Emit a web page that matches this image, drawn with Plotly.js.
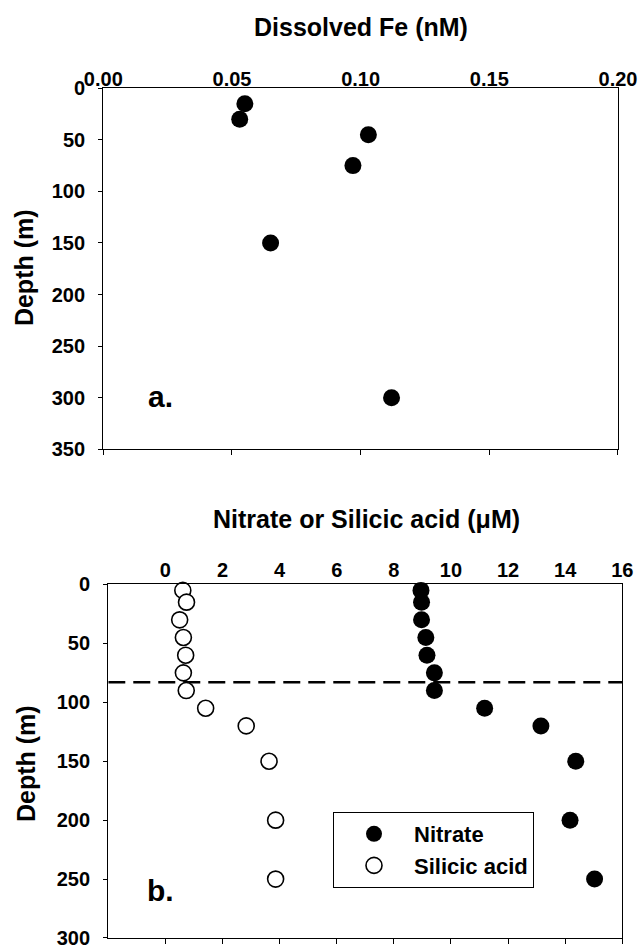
<!DOCTYPE html>
<html>
<head>
<meta charset="utf-8">
<script src="https://cdn.plot.ly/plotly-3.0.1.min.js"></script>
<style>html,body{margin:0;padding:0;background:#fff;}#chart{width:643px;height:949px;}</style>
</head>
<body>
<div id="chart"></div>
<script>
// ---- Data ----
const feDepth = [15, 30, 45, 75, 150, 300];
const feConc = [0.055, 0.053, 0.103, 0.097, 0.065, 0.112];

const nutDepth = [5, 15, 30, 45, 60, 75, 90, 105, 120, 150, 200, 250];
const nitrate = [8.95, 8.97, 8.97, 9.12, 9.16, 9.42, 9.42, 11.18, 13.15, 14.37, 14.17, 15.03];
const silicic = [0.61, 0.74, 0.50, 0.63, 0.71, 0.63, 0.73, 1.41, 2.83, 3.63, 3.86, 3.86];

const mixedLayerDepth = 83;

const feTicks = [0, 0.05, 0.10, 0.15, 0.20];
const feDepthTicks = [0, 50, 100, 150, 200, 250, 300, 350];
const nutTicks = [0, 2, 4, 6, 8, 10, 12, 14, 16];
const nutDepthTicks = [0, 50, 100, 150, 200, 250, 300];

// ---- Styles ----
const FONT = "'Liberation Sans', Arial, sans-serif";
const tickFont = {family: FONT, size: 20, color: '#000', weight: 'bold'};
const titleFont = {family: FONT, size: 25, color: '#000', weight: 'bold'};

const traces = [
  {x: feConc, y: feDepth, xaxis: 'x', yaxis: 'y', type: 'scatter', mode: 'markers',
   marker: {size: 17, color: '#000'}, showlegend: false, cliponaxis: false},
  // empty helper traces so the bottom tick-only axes get drawn
  {x: [], y: [], xaxis: 'x3', yaxis: 'y', type: 'scatter', mode: 'markers', showlegend: false},
  {x: [], y: [], xaxis: 'x4', yaxis: 'y2', type: 'scatter', mode: 'markers', showlegend: false},
  {x: [-2, 16], y: [mixedLayerDepth, mixedLayerDepth], xaxis: 'x2', yaxis: 'y2', type: 'scatter', mode: 'lines',
   line: {color: '#000', width: 2.5, dash: '17px,8px'}, showlegend: false},
  {x: nitrate, y: nutDepth, xaxis: 'x2', yaxis: 'y2', type: 'scatter', mode: 'markers', name: 'Nitrate',
   legendgroup: 'n', marker: {size: 17, color: '#000'}, cliponaxis: false},
  {x: silicic, y: nutDepth, xaxis: 'x2', yaxis: 'y2', type: 'scatter', mode: 'markers', name: 'Silicic acid',
   legendgroup: 's', marker: {size: 16, color: '#fff', line: {color: '#000', width: 1.6}}, cliponaxis: false}
];

const xTop = (range, tickvals, fmt, domain, anchor, standoff) => ({
  domain: domain, anchor: anchor, side: 'top', range: range, tickvals: tickvals, tickformat: fmt,
  ticks: '', showline: true, mirror: true, linecolor: '#000', linewidth: 1.2,
  showgrid: false, zeroline: false, tickfont: tickFont, ticklabelstandoff: standoff,
  ticklabeloverflow: 'allow'
});
const xBot = (range, tickvals, overl, anchor) => ({
  overlaying: overl, anchor: anchor, side: 'bottom', range: range, tickvals: tickvals,
  ticks: 'outside', ticklen: 5, tickwidth: 1, tickcolor: '#000', showticklabels: false,
  showline: false, showgrid: false, zeroline: false
});
const yAx = (range, tickvals, domain, anchor) => ({
  domain: domain, anchor: anchor, range: range, tickvals: tickvals,
  ticks: 'outside', ticklen: 4, tickwidth: 1, tickcolor: '#000',
  showline: true, mirror: true, linecolor: '#000', linewidth: 1.2,
  showgrid: false, zeroline: false, tickfont: tickFont, ticklabelstandoff: 9,
  ticklabeloverflow: 'allow'
});

const layout = {
  width: 643, height: 949,
  margin: {l: 0, r: 0, t: 0, b: 0},
  paper_bgcolor: '#fff', plot_bgcolor: '#fff',
  font: {family: FONT, color: '#000'},
  xaxis: xTop([0, 0.2], feTicks, '.2f', [0.1607, 0.9611], 'y', -7),
  xaxis3: xBot([0, 0.2], feTicks, 'x', 'y'),
  yaxis: yAx([350, 0], feDepthTicks, [0.5266, 0.9070], 'x'),
  xaxis2: xTop([-2, 16], nutTicks, 'd', [0.1684, 0.9678], 'y2', -2),
  xaxis4: xBot([-2, 16], nutTicks, 'x2', 'y2'),
  yaxis2: yAx([300, 0], nutDepthTicks, [0.0116, 0.3841], 'x2'),
  showlegend: true,
  legend: {
    x: 333 / 643, y: 1 - 812 / 949, xanchor: 'left', yanchor: 'top',
    bgcolor: '#fff', bordercolor: '#000', borderwidth: 1,
    font: {family: FONT, size: 22, color: '#000', weight: 'bold'},
    itemwidth: 70, tracegroupgap: 0
  },
  annotations: [
    {text: 'Dissolved Fe (nM)', xref: 'paper', yref: 'paper', x: 361.5 / 643, y: 1 - 27 / 949,
     showarrow: false, xanchor: 'center', yanchor: 'middle', font: titleFont},
    {text: 'Nitrate or Silicic acid (μM)', xref: 'paper', yref: 'paper', x: 366 / 643, y: 1 - 519 / 949,
     showarrow: false, xanchor: 'center', yanchor: 'middle', font: titleFont},
    {text: 'Depth (m)', xref: 'paper', yref: 'paper', x: 23.6 / 643, y: 1 - 267.5 / 949, textangle: -90,
     showarrow: false, xanchor: 'center', yanchor: 'middle', font: titleFont},
    {text: 'Depth (m)', xref: 'paper', yref: 'paper', x: 26 / 643, y: 1 - 764 / 949, textangle: -90,
     showarrow: false, xanchor: 'center', yanchor: 'middle', font: titleFont},
    {text: 'a.', xref: 'paper', yref: 'paper', x: 160 / 643, y: 1 - 396 / 949,
     showarrow: false, xanchor: 'center', yanchor: 'middle', font: {family: FONT, size: 30, color: '#000', weight: 'bold'}},
    {text: 'b.', xref: 'paper', yref: 'paper', x: 160 / 643, y: 1 - 890 / 949,
     showarrow: false, xanchor: 'center', yanchor: 'middle', font: {family: FONT, size: 30, color: '#000', weight: 'bold'}}
  ]
};

Plotly.newPlot('chart', traces, layout, {staticPlot: true, displayModeBar: false});
</script>
</body>
</html>
